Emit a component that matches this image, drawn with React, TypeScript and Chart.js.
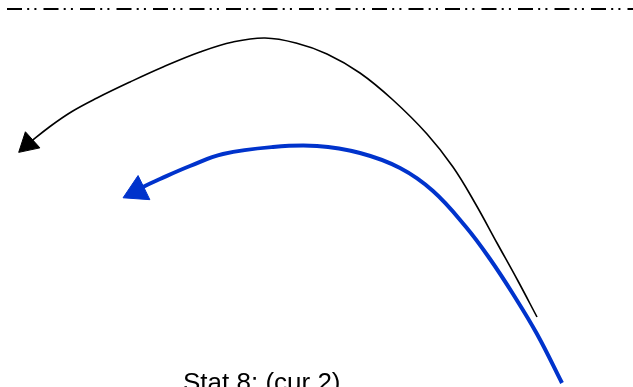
import React, { useEffect, useRef } from "react";
import { Chart, registerables } from "chart.js";

Chart.register(...registerables);

// Reference line (dash-dot-dot) at the top
const refLineX = [7, 633];
const refLineY = [9, 9];

// Black curve (start -> arrow head)
const blackX = [537, 518, 497, 475, 453, 427, 393, 360, 327, 296, 265, 233, 200, 163, 130, 97, 72, 50, 28];
const blackY = [317, 281, 243, 203, 167, 134, 100, 73, 54, 43, 38, 42, 52, 67, 82, 98, 111.5, 126.5, 144];

// Blue curve (start -> arrow head)
const blueX = [562, 537, 513, 490, 466, 433, 400, 360, 317, 273, 223, 190, 160, 143, 137];
const blueY = [383, 334, 294, 259, 227, 191, 168, 153, 146, 147, 154, 166, 179, 187, 191];

const labelText = "Stat 8: (cur 2)";
const labelX = 183;
const labelY = 391;

const toPts = (xs: number[], ys: number[]) => xs.map((x, i) => ({ x, y: ys[i] }));

export default function App() {
  const ref = useRef<HTMLCanvasElement | null>(null);
  useEffect(() => {
    if (!ref.current) return;
    const lastOnly = (n: number, r: number) => Array.from({ length: n }, (_, i) => (i === n - 1 ? r : 0));
    const labelPlugin = {
      id: "statLabel",
      afterDraw(chart: any) {
        const { ctx, scales } = chart;
        ctx.save();
        ctx.font = '26px "Liberation Sans", Arial, sans-serif';
        ctx.fillStyle = "#000";
        ctx.textBaseline = "alphabetic";
        ctx.textAlign = "left";
        ctx.fillText(labelText, scales.x.getPixelForValue(labelX), scales.y.getPixelForValue(labelY));
        ctx.restore();
      },
    };
    const chart = new Chart(ref.current, {
      type: "scatter",
      data: {
        datasets: [
          {
            data: toPts(refLineX, refLineY),
            showLine: true,
            borderColor: "#000",
            borderWidth: 2,
            borderDash: [15, 5.2, 2, 5.2, 2, 7.1],
            pointRadius: 0,
          },
          {
            data: toPts(blackX, blackY),
            showLine: true,
            borderColor: "#000",
            borderWidth: 1.6,
            tension: 0.4,
            pointRadius: lastOnly(blackX.length, 12.5),
            pointStyle: "triangle",
            pointRotation: 228,
            pointBackgroundColor: "#000",
            pointBorderColor: "#000",
            pointBorderWidth: 1,
          },
          {
            data: toPts(blueX, blueY),
            showLine: true,
            borderColor: "#0033cc",
            borderWidth: 4,
            tension: 0.4,
            pointRadius: lastOnly(blueX.length, 15.5),
            pointStyle: "triangle",
            pointRotation: 244,
            pointBackgroundColor: "#0033cc",
            pointBorderColor: "#0033cc",
            pointBorderWidth: 1,
          },
        ],
      },
      options: {
        responsive: false,
        animation: false,
        layout: { padding: 0, autoPadding: false },
        plugins: { legend: { display: false }, tooltip: { enabled: false } },
        scales: {
          x: { type: "linear", min: 0, max: 633, display: false },
          y: { type: "linear", min: 0, max: 387, reverse: true, display: false },
        },
      },
      plugins: [labelPlugin],
    });
    return () => chart.destroy();
  }, []);
  return (
    <div style={{ position: "fixed", left: 0, top: 0, width: 633, height: 387, background: "#fff" }}>
      <canvas ref={ref} width={633} height={387} style={{ display: "block" }} />
    </div>
  );
}
